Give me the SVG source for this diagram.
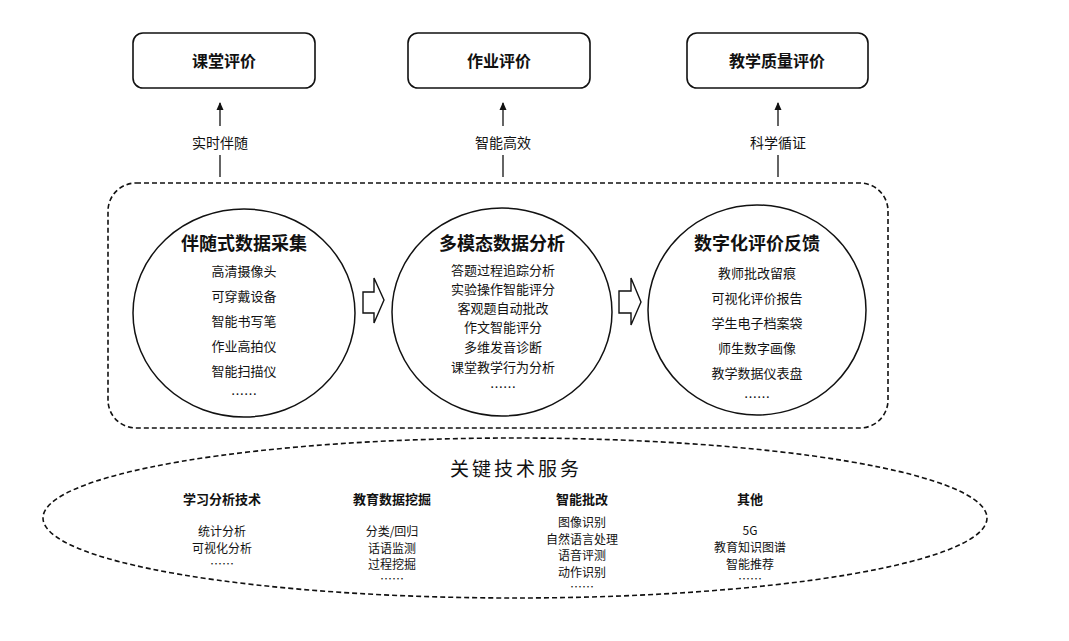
<svg xmlns="http://www.w3.org/2000/svg" width="1069" height="641" viewBox="0 0 1069 641">
<style>
.box{fill:#fff;stroke:#111;stroke-width:1.6}
.dash{fill:none;stroke:#111;stroke-width:1.6;stroke-dasharray:5 3}
.circ{fill:none;stroke:#111;stroke-width:1.5}
.ln{stroke:#111;stroke-width:1.3;fill:none}
.blk{fill:#fff;stroke:#111;stroke-width:1.4}
text{font-family:"Noto Sans CJK SC","Noto Sans",sans-serif;fill:#111;text-anchor:middle;dominant-baseline:central}
.h1{font-size:16px;font-weight:bold}
.lbl{font-size:14px}
.ct{font-size:18px;font-weight:bold}
.it{font-size:13px}
.kt{font-size:19px;letter-spacing:3px}
.kh{font-size:13px;font-weight:bold}
.ki{font-size:12px}
</style>
<defs>
<marker id="ah" markerWidth="8" markerHeight="8" refX="7" refY="4" orient="auto" markerUnits="userSpaceOnUse" viewBox="0 0 8 8">
<path d="M0,0.5 L8,4 L0,7.5 Z" fill="#111"/>
</marker>
</defs>
<rect width="1069" height="641" fill="#fff"/>

<g id="box-ketang"><rect class="box" x="133" y="33" width="182" height="55" rx="10"/><text class="h1" x="224" y="60">课堂评价</text></g>
<g id="box-zuoye"><rect class="box" x="408" y="33" width="182" height="55" rx="10"/><text class="h1" x="499" y="60">作业评价</text></g>
<g id="box-zhiliang"><rect class="box" x="687" y="33" width="181" height="55" rx="10"/><text class="h1" x="777" y="60">教学质量评价</text></g>

<g id="connectors">
<line class="ln" x1="220" y1="126" x2="220" y2="103" marker-end="url(#ah)"/>
<line class="ln" x1="220" y1="155" x2="220" y2="177"/>
<line class="ln" x1="503" y1="126" x2="503" y2="103" marker-end="url(#ah)"/>
<line class="ln" x1="503" y1="155" x2="503" y2="177"/>
<line class="ln" x1="778" y1="126" x2="778" y2="103" marker-end="url(#ah)"/>
<line class="ln" x1="778" y1="155" x2="778" y2="177"/>
<path id="arrow1" class="blk" d="M363,292 L374,292 L374,278 L384,300 L374,323 L374,313 L363,313 Z"/>
<path id="arrow2" class="blk" d="M619,291 L631,291 L631,278 L641,302 L631,325 L631,313 L619,313 Z"/>
</g>
<text class="lbl" x="220" y="142">实时伴随</text>
<text class="lbl" x="503" y="142">智能高效</text>
<text class="lbl" x="778" y="142">科学循证</text>

<g id="platform"><rect class="dash" x="108" y="183" width="780" height="245" rx="28"/></g>

<g id="node-caiji">
<ellipse class="circ" cx="244" cy="313" rx="111" ry="104"/>
<text class="ct" x="244" y="242">伴随式数据采集</text>
<text class="it" x="244" y="270">高清摄像头</text>
<text class="it" x="244" y="295">可穿戴设备</text>
<text class="it" x="244" y="320">智能书写笔</text>
<text class="it" x="244" y="345">作业高拍仪</text>
<text class="it" x="244" y="370">智能扫描仪</text>
<text class="it" x="244" y="393">……</text>
</g>

<g id="node-fenxi">
<ellipse class="circ" cx="502" cy="312" rx="110" ry="104"/>
<text class="ct" x="502" y="242">多模态数据分析</text>
<text class="it" x="503" y="269">答题过程追踪分析</text>
<text class="it" x="503" y="288">实验操作智能评分</text>
<text class="it" x="503" y="307">客观题自动批改</text>
<text class="it" x="503" y="326">作文智能评分</text>
<text class="it" x="503" y="346">多维发音诊断</text>
<text class="it" x="503" y="366">课堂教学行为分析</text>
<text class="it" x="503" y="386">……</text>
</g>

<g id="node-fankui">
<ellipse class="circ" cx="757" cy="310" rx="109" ry="105"/>
<text class="ct" x="757" y="242">数字化评价反馈</text>
<text class="it" x="757" y="272">教师批改留痕</text>
<text class="it" x="757" y="297">可视化评价报告</text>
<text class="it" x="757" y="322">学生电子档案袋</text>
<text class="it" x="757" y="347">师生数字画像</text>
<text class="it" x="757" y="372">教学数据仪表盘</text>
<text class="it" x="757" y="396">……</text>
</g>

<g id="node-jishu">
<ellipse class="dash" cx="515" cy="518" rx="472" ry="80"/>
<text class="kt" x="516" y="467">关键技术服务</text>
<text class="kh" x="222" y="498">学习分析技术</text>
<text class="ki" x="222" y="530">统计分析</text>
<text class="ki" x="222" y="547">可视化分析</text>
<text class="ki" x="222" y="563">……</text>
<text class="kh" x="392" y="498">教育数据挖掘</text>
<text class="ki" x="392" y="530">分类/回归</text>
<text class="ki" x="392" y="547">话语监测</text>
<text class="ki" x="392" y="563">过程挖掘</text>
<text class="ki" x="392" y="578">……</text>
<text class="kh" x="582" y="498">智能批改</text>
<text class="ki" x="582" y="521">图像识别</text>
<text class="ki" x="582" y="538">自然语言处理</text>
<text class="ki" x="582" y="554">语音评测</text>
<text class="ki" x="582" y="571">动作识别</text>
<text class="ki" x="582" y="586">……</text>
<text class="kh" x="750" y="498">其他</text>
<text class="ki" x="750" y="529">5G</text>
<text class="ki" x="750" y="546">教育知识图谱</text>
<text class="ki" x="750" y="563">智能推荐</text>
<text class="ki" x="750" y="578">……</text>
</g>
</svg>
